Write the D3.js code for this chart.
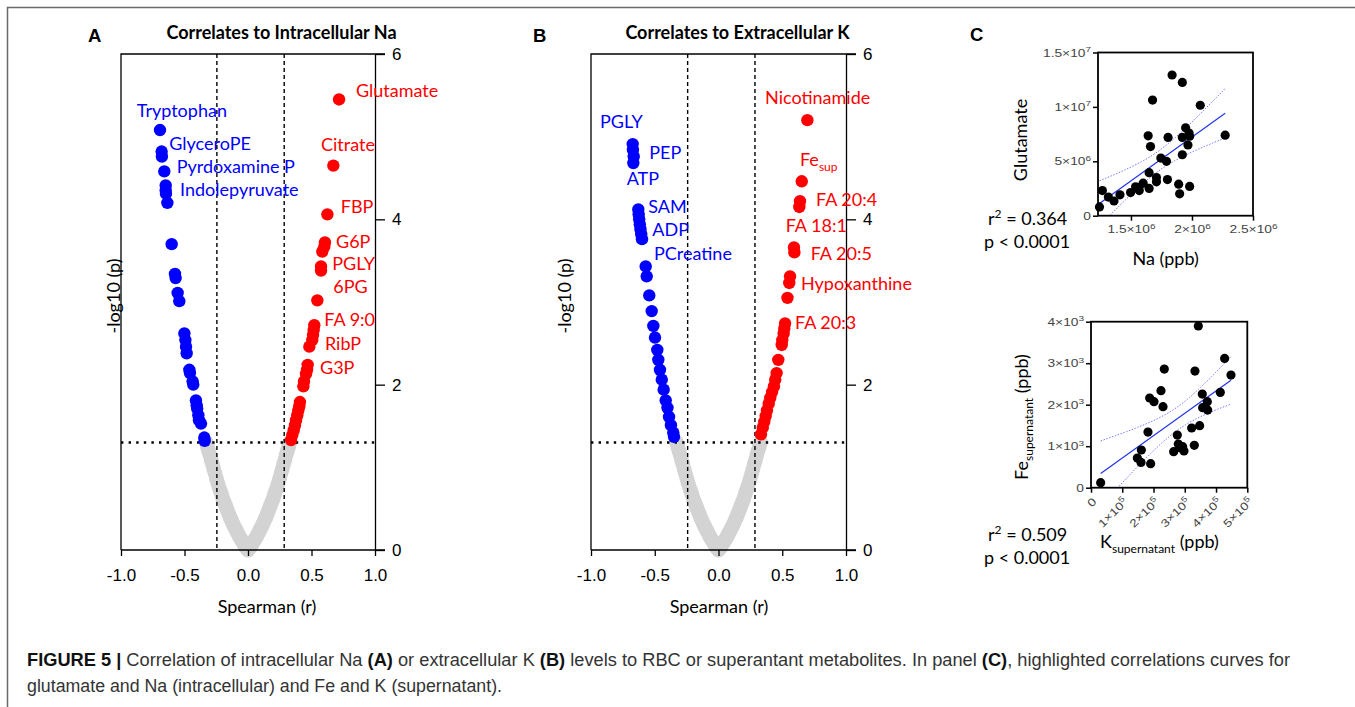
<!DOCTYPE html>
<html>
<head>
<meta charset="utf-8">
<script src="https://cdn.jsdelivr.net/npm/d3@7"></script>
<style>
  body { margin: 0; background: #fff; }
  svg { display: block; }
</style>
</head>
<body>
<svg id="fig" width="1355" height="707"></svg>
<script>
// ---------------- data ----------------
// Non-significant metabolites (Spearman r, -log10 p) – shared V-shaped cloud
const nsR = [-0.33,-0.32,-0.31,-0.30,-0.29,-0.28,-0.27,-0.26,-0.25,-0.24,-0.23,-0.22,-0.21,-0.20,-0.19,-0.18,-0.17,-0.16,-0.15,-0.14,-0.13,-0.12,-0.11,-0.10,-0.09,-0.08,-0.07,-0.06,-0.05,-0.04,-0.03,-0.02,-0.01,0.00,
             0.01,0.02,0.03,0.04,0.05,0.06,0.07,0.08,0.09,0.10,0.11,0.12,0.13,0.14,0.15,0.16,0.17,0.18,0.19,0.20,0.21,0.22,0.23,0.24,0.25,0.26,0.27,0.28,0.29,0.30,0.31,0.32,0.33];
const nsLogP = [1.30,1.25,1.20,1.15,1.09,1.04,0.98,0.93,0.87,0.82,0.77,0.72,0.68,0.63,0.59,0.55,0.51,0.47,0.43,0.39,0.36,0.32,0.29,0.26,0.23,0.20,0.17,0.14,0.12,0.09,0.07,0.04,0.02,0.00,
                0.02,0.04,0.07,0.09,0.12,0.14,0.17,0.20,0.23,0.26,0.29,0.32,0.36,0.39,0.43,0.47,0.51,0.55,0.59,0.63,0.68,0.72,0.77,0.82,0.87,0.93,0.98,1.04,1.09,1.15,1.20,1.25,1.30];

// Panel A – correlates to intracellular Na
const naNegR = [-0.693,-0.680,-0.678,-0.659,-0.648,-0.648,-0.646,-0.635,-0.601,-0.575,-0.570,-0.554,-0.541,-0.501,-0.493,-0.488,-0.483,-0.462,-0.457,-0.436,-0.431,-0.410,-0.404,-0.400,-0.391,-0.386,-0.370,-0.344,-0.341];
const naNegLogP = [5.08,4.82,4.76,4.58,4.41,4.35,4.31,4.20,3.70,3.34,3.29,3.11,3.01,2.62,2.54,2.46,2.38,2.18,2.14,2.04,2.00,1.81,1.75,1.71,1.63,1.57,1.53,1.36,1.32];
const naPosR = [0.717,0.672,0.625,0.606,0.601,0.585,0.575,0.575,0.546,0.522,0.517,0.512,0.506,0.483,0.470,0.465,0.457,0.441,0.436,0.409,0.404,0.396,0.388,0.378,0.370,0.360,0.349,0.339];
const naPosLogP = [5.45,4.65,4.06,3.72,3.67,3.61,3.43,3.38,3.02,2.72,2.66,2.60,2.54,2.46,2.24,2.18,2.13,2.04,1.98,1.79,1.74,1.69,1.63,1.57,1.51,1.45,1.39,1.33];
const naNegNames = ["Tryptophan","GlyceroPE","Pyrdoxamine P","Indolepyruvate"];
const naPosNames = ["Glutamate","Citrate","FBP","G6P","PGLY","6PG","FA 9:0","RibP","G3P"];
const naCut = [-0.245, 0.285];

// Panel B – correlates to extracellular K
const kNegR = [-0.673,-0.671,-0.665,-0.668,-0.629,-0.626,-0.622,-0.617,-0.612,-0.606,-0.600,-0.571,-0.563,-0.543,-0.524,-0.511,-0.498,-0.480,-0.472,-0.459,-0.445,-0.430,-0.414,-0.400,-0.388,-0.373,-0.355,-0.349];
const kNegLogP = [4.91,4.84,4.76,4.68,4.12,4.06,4.00,3.94,3.88,3.82,3.76,3.43,3.31,3.08,2.89,2.71,2.57,2.42,2.30,2.18,2.06,1.94,1.81,1.72,1.61,1.51,1.42,1.37];
const kPosR = [0.697,0.653,0.639,0.634,0.592,0.595,0.561,0.555,0.541,0.522,0.516,0.511,0.500,0.496,0.469,0.456,0.445,0.435,0.420,0.406,0.394,0.380,0.370,0.359,0.347,0.333];
const kPosLogP = [5.20,4.46,4.22,4.15,3.66,3.60,3.31,3.23,3.05,2.74,2.68,2.62,2.54,2.48,2.30,2.14,2.06,1.98,1.91,1.84,1.77,1.69,1.62,1.55,1.48,1.40];
const kNegNames = ["PGLY","PEP","ATP","SAM","ADP","PCreatine"];
const kPosNames = ["Nicotinamide","Fe|sup","FA 20:4","FA 18:1","FA 20:5","Hypoxanthine","FA 20:3"];
const kCut = [-0.242, 0.286];

const pCut = 1.30;           // -log10(0.05)
const volcanoYTicks = [0, 2, 4, 6];
const volcanoXTicks = [-1.0, -0.5, 0.0, 0.5, 1.0];

// Panel C (top) – glutamate vs intracellular Na (ppb)
const naPpb = [1.242e6,1.266e6,1.315e6,1.361e6,1.410e6,1.497e6,1.538e6,1.565e6,1.568e6,1.600e6,1.649e6,1.641e6,1.660e6,1.677e6,1.649e6,1.709e6,1.709e6,1.745e6,1.791e6,1.799e6,1.804e6,1.837e6,1.891e6,1.899e6,1.921e6,1.921e6,1.921e6,1.948e6,1.967e6,1.976e6,1.981e6,1.981e6,2.068e6,2.272e6];
const glutamate = [0.81e6,2.31e6,1.71e6,1.35e6,1.92e6,2.13e6,2.66e6,2.60e6,2.31e6,2.99e6,3.95e6,7.34e6,6.35e6,10.63e6,2.51e6,3.50e6,3.11e6,5.30e6,5.00e6,3.32e6,7.19e6,12.93e6,2.90e6,2.01e6,12.25e6,7.19e6,5.60e6,8.08e6,6.50e6,7.60e6,7.31e6,2.69e6,10.15e6,7.40e6];
const naXTicks = [1.5e6, 2e6, 2.5e6];
const gluYTicks = [0, 5e6, 1e7, 1.5e7];

// Panel C (bottom) – supernatant Fe vs supernatant K (ppb)
const kSupPpb = [0.309e5,1.482e5,1.599e5,1.610e5,1.908e5,1.823e5,1.876e5,2.015e5,2.239e5,2.303e5,2.345e5,2.644e5,2.761e5,2.793e5,2.846e5,2.932e5,2.974e5,3.305e5,3.220e5,3.326e5,3.433e5,3.475e5,3.561e5,3.571e5,3.721e5,3.731e5,4.136e5,4.275e5,4.478e5];
const feSupPpb = [120,715,610,908,578,1341,2161,2072,2337,1952,2859,867,1269,1052,964,988,884,1020,1438,2811,3896,1494,2257,1928,2072,1871,2297,3116,2715];
const kXTicks = [0, 1e5, 2e5, 3e5, 4e5, 5e5];
const feYTicks = [0, 1e3, 2e3, 3e3, 4e3];

// ---------------- layout ----------------
const BLUE = "#0000ff", RED = "#ff0000", GREY = "#d3d3d3";
const LABEL_FONT = "Lato, 'Open Sans', sans-serif";
const AXIS_FONT = "'Liberation Sans', Arial, sans-serif";

const naNegLabelPos = [[-0.876,5.24],[-0.620,4.84],[-0.561,4.56],[-0.535,4.28]];
const naPosLabelPos = [[0.850,5.48],[0.575,4.83],[0.730,4.08],[0.693,3.65],[0.664,3.39],[0.672,3.11],[0.601,2.71],[0.606,2.42],[0.567,2.13]];
const kNegLabelPos = [[-0.929,5.10],[-0.543,4.73],[-0.720,4.42],[-0.551,4.08],[-0.519,3.80],[-0.506,3.51]];
const kPosLabelPos = [[0.365,5.40],[0.639,4.64],[0.765,4.16],[0.527,3.85],[0.723,3.51],[0.647,3.14],[0.600,2.67]];

const svg = d3.select("#fig");

// figure frame
svg.append("path")
  .attr("d", "M7.5,707 V7.5 H1355")
  .attr("fill", "none").attr("stroke", "#6a6a6a").attr("stroke-width", 1.5);

function drawLabel(g, text, x, y, color) {
  const t = g.append("text").attr("x", x).attr("y", y)
    .attr("fill", color).attr("font-family", LABEL_FONT).attr("font-size", 18);
  const parts = text.split("|");
  t.append("tspan").text(parts[0]);
  if (parts[1]) t.append("tspan").attr("font-size", 12).attr("dy", 5).text(parts[1]);
}

function volcano(o) {
  const x = d3.scaleLinear().domain([-1, 1]).range([o.left, o.right]);
  const y = d3.scaleLinear().domain([0, 6]).range([550, 54]);
  const g = svg.append("g");

  // non-significant cloud
  g.append("g").selectAll("circle").data(d3.zip(nsR, nsLogP)).join("circle")
    .attr("cx", d => x(d[0])).attr("cy", d => y(d[1])).attr("r", 7.4).attr("fill", GREY);

  // cut-offs
  o.cut.forEach(c => g.append("line")
    .attr("x1", x(c)).attr("x2", x(c)).attr("y1", y(6)).attr("y2", y(0))
    .attr("stroke", "#000").attr("stroke-width", 1.4).attr("stroke-dasharray", "4,3"));
  g.append("line")
    .attr("x1", x(-1)).attr("x2", x(1)).attr("y1", y(pCut)).attr("y2", y(pCut))
    .attr("stroke", "#000").attr("stroke-width", 2.4).attr("stroke-dasharray", "2.4,5.2");

  // significant metabolites
  g.append("g").selectAll("circle").data(d3.zip(o.negR, o.negP)).join("circle")
    .attr("cx", d => x(d[0])).attr("cy", d => y(d[1])).attr("r", 6.2).attr("fill", BLUE);
  g.append("g").selectAll("circle").data(d3.zip(o.posR, o.posP)).join("circle")
    .attr("cx", d => x(d[0])).attr("cy", d => y(d[1])).attr("r", 6.2).attr("fill", RED);

  // frame: left edge, top and bottom rules
  g.append("path")
    .attr("d", `M${x(-1)},${y(0)} V${y(6)} H${x(1) + 10} M${x(-1)},${y(0)} H${x(1) + 10}`)
    .attr("fill", "none").attr("stroke", "#000").attr("stroke-width", 1.3);

  // y axis on the right
  const ay = g.append("g").attr("transform", `translate(${x(1)},0)`)
    .call(d3.axisRight(y).tickValues(volcanoYTicks).tickFormat(d3.format("d"))
      .tickSize(10).tickSizeOuter(0).tickPadding(7));
  ay.selectAll("path,line").attr("stroke", "#000").attr("stroke-width", 1.3);
  ay.selectAll("text").attr("font-family", AXIS_FONT).attr("font-size", 17).attr("fill", "#000");

  // x axis
  const ax = g.append("g").attr("transform", `translate(0,${y(0)})`)
    .call(d3.axisBottom(x).tickValues(volcanoXTicks).tickFormat(d => d.toFixed(1)).tickSize(6).tickSizeOuter(0).tickPadding(13));
  ax.select(".domain").remove();
  ax.selectAll("line").attr("stroke", "#000").attr("stroke-width", 1.3);
  ax.selectAll("text").attr("font-family", AXIS_FONT).attr("font-size", 17).attr("fill", "#000");

  // metabolite labels
  o.negNames.forEach((n, i) => drawLabel(g, n, x(o.negLab[i][0]), y(o.negLab[i][1]), BLUE));
  o.posNames.forEach((n, i) => drawLabel(g, n, x(o.posLab[i][0]), y(o.posLab[i][1]), RED));

  // titles
  g.append("text").attr("x", o.titleX).attr("y", 38.5).attr("text-anchor", "middle")
    .attr("font-family", LABEL_FONT).attr("font-weight", 700).attr("font-size", 18).text(o.title);
  g.append("text").attr("x", o.letterX).attr("y", 41.5)
    .attr("font-family", AXIS_FONT).attr("font-weight", 700).attr("font-size", 18.5).text(o.letter);
  g.append("text").attr("x", o.xLabelX).attr("y", 613).attr("text-anchor", "middle")
    .attr("font-family", LABEL_FONT).attr("font-size", 18).text("Spearman (r)");
  g.append("text").attr("transform", `translate(${o.yLabelX},296) rotate(-90)`).attr("text-anchor", "middle")
    .attr("font-family", LABEL_FONT).attr("font-size", 18).text("-log10 (p)");
}

volcano({
  left: 121, right: 375, cut: naCut,
  negR: naNegR, negP: naNegLogP, posR: naPosR, posP: naPosLogP,
  negNames: naNegNames, posNames: naPosNames, negLab: naNegLabelPos, posLab: naPosLabelPos,
  title: "Correlates to Intracellular Na", titleX: 281.5, letter: "A", letterX: 88,
  xLabelX: 267, yLabelX: 120
});
volcano({
  left: 591, right: 846, cut: kCut,
  negR: kNegR, negP: kNegLogP, posR: kPosR, posP: kPosLogP,
  negNames: kNegNames, posNames: kPosNames, negLab: kNegLabelPos, posLab: kPosLabelPos,
  title: "Correlates to Extracellular K", titleX: 737.5, letter: "B", letterX: 533,
  xLabelX: 719, yLabelX: 571
});

// ---------- scatter panels (C) ----------
function linFit(xs, ys) {
  const n = xs.length, mx = d3.mean(xs), my = d3.mean(ys);
  let sxx = 0, sxy = 0;
  for (let i = 0; i < n; i++) { sxx += (xs[i] - mx) ** 2; sxy += (xs[i] - mx) * (ys[i] - my); }
  const b = sxy / sxx, a = my - b * mx;
  let sse = 0;
  for (let i = 0; i < n; i++) sse += (ys[i] - (a + b * xs[i])) ** 2;
  return { a, b, n, mx, sxx, s: Math.sqrt(sse / (n - 2)) };
}
const T975 = 2.04;

function sciParts(v) {
  if (v === 0) return ["0", ""];
  const e = Math.floor(Math.log10(v) + 1e-9);
  const m = +(v / Math.pow(10, e)).toFixed(2);
  return [m + "×10", String(e)];
}

function sciTicks(sel, stretch) {
  sel.selectAll(".tick text").each(function (d) {
    const t = d3.select(this).text(null);
    const [base, ex] = sciParts(d);
    t.append("tspan").text(base);
    if (ex) t.append("tspan").attr("font-size", 8).attr("dy", -4.5).text(ex);
    const w = this.getComputedTextLength();
    t.attr("textLength", w * stretch).attr("lengthAdjust", "spacingAndGlyphs");
  });
}

function scatter(o) {
  const x = d3.scaleLinear().domain(o.xDom).range([o.left, o.right]);
  const y = d3.scaleLinear().domain(o.yDom).range([o.bottom, o.top]);
  const g = svg.append("g");
  const clipId = "clip" + o.id;
  g.append("clipPath").attr("id", clipId).append("rect")
    .attr("x", o.left).attr("y", o.top).attr("width", o.right - o.left).attr("height", o.bottom - o.top);

  const f = linFit(o.xs, o.ys);
  const x0 = d3.min(o.xs), x1 = d3.max(o.xs);
  const grid = d3.range(0, 61).map(i => x0 + (x1 - x0) * i / 60);
  const half = v => T975 * f.s * Math.sqrt(1 / f.n + (v - f.mx) ** 2 / f.sxx);
  const line = d3.line().x(d => x(d[0])).y(d => y(d[1]));
  const cg = g.append("g").attr("clip-path", `url(#${clipId})`);
  cg.append("path").attr("d", line(grid.map(v => [v, f.a + f.b * v + half(v)])))
    .attr("fill", "none").attr("stroke", "#7777ff").attr("stroke-width", 1).attr("stroke-dasharray", "1.5,1.5");
  cg.append("path").attr("d", line(grid.map(v => [v, f.a + f.b * v - half(v)])))
    .attr("fill", "none").attr("stroke", "#7777ff").attr("stroke-width", 1).attr("stroke-dasharray", "1.5,1.5");
  cg.append("path").attr("d", line([[x0, f.a + f.b * x0], [x1, f.a + f.b * x1]]))
    .attr("fill", "none").attr("stroke", "#2233ee").attr("stroke-width", 1.2);

  g.append("g").selectAll("circle").data(d3.zip(o.xs, o.ys)).join("circle")
    .attr("cx", d => x(d[0])).attr("cy", d => y(d[1])).attr("r", 4.6).attr("fill", "#000");

  // box
  g.append("rect").attr("x", o.left).attr("y", o.top).attr("width", o.right - o.left).attr("height", o.bottom - o.top)
    .attr("fill", "none").attr("stroke", "#000").attr("stroke-width", 1.8);

  const ay = g.append("g").attr("transform", `translate(${o.left},0)`)
    .call(d3.axisLeft(y).tickValues(o.yTicks).tickSize(5).tickSizeOuter(0).tickPadding(2));
  ay.select(".domain").remove();
  ay.selectAll("line").attr("stroke", "#000").attr("stroke-width", 1.5);
  ay.selectAll("text").attr("font-family", AXIS_FONT).attr("font-size", 11).attr("fill", "#444");
  sciTicks(ay, 1.25);

  const ax = g.append("g").attr("transform", `translate(0,${o.bottom})`)
    .call(d3.axisBottom(x).tickValues(o.xTicks).tickSize(5).tickSizeOuter(0).tickPadding(5));
  ax.select(".domain").remove();
  ax.selectAll("line").attr("stroke", "#000").attr("stroke-width", 1.5);
  ax.selectAll("text").attr("font-family", AXIS_FONT).attr("font-size", 11).attr("fill", "#444");
  sciTicks(ax, 1.25);
  if (o.rotateX) {
    ax.selectAll(".tick text")
      .attr("text-anchor", "end").attr("y", 0).attr("dy", "0.35em")
      .attr("transform", "translate(3,12) rotate(-45)");
  }
  return { g, x, y };
}

const naPanel = scatter({
  id: "na", xs: naPpb, ys: glutamate, xDom: [1.23e6, 2.5e6], yDom: [0, 1.5e7],
  left: 1098, right: 1253, top: 52.5, bottom: 215.7, xTicks: naXTicks, yTicks: gluYTicks
});
const kPanel = scatter({
  id: "k", xs: kSupPpb, ys: feSupPpb, xDom: [0, 5e5], yDom: [0, 4000],
  left: 1091, right: 1247.3, top: 321.7, bottom: 487.7, xTicks: kXTicks, yTicks: feYTicks, rotateX: true
});

const cg = svg.append("g").attr("font-family", LABEL_FONT).attr("font-size", 18).attr("fill", "#000");
cg.append("text").attr("x", 970).attr("y", 40.7).attr("font-family", AXIS_FONT)
  .attr("font-weight", 700).attr("font-size", 18.5).text("C");
cg.append("text").attr("transform", "translate(1027,140) rotate(-90)").attr("text-anchor", "middle").text("Glutamate");
cg.append("text").attr("x", 1165.7).attr("y", 265).attr("text-anchor", "middle").text("Na (ppb)");

function statText(x, y, r2, p) {
  const t1 = cg.append("text").attr("x", x).attr("y", y);
  t1.append("tspan").text("r");
  t1.append("tspan").attr("font-size", 12).attr("dy", -7).text("2");
  t1.append("tspan").attr("dy", 7).text(" = " + r2);
  cg.append("text").attr("x", x - 4).attr("y", y + 23).text("p < " + p);
}
statText(988, 225, "0.364", "0.0001");
statText(988, 541, "0.509", "0.0001");

const feLab = cg.append("text").attr("transform", "translate(1028,417) rotate(-90)").attr("text-anchor", "middle");
feLab.append("tspan").text("Fe");
feLab.append("tspan").attr("font-size", 12).attr("dy", 5).text("supernatant");
feLab.append("tspan").attr("dy", -5).text(" (ppb)");
const kLab = cg.append("text").attr("x", 1100).attr("y", 548);
kLab.append("tspan").text("K");
kLab.append("tspan").attr("font-size", 12).attr("dy", 5).text("supernatant");
kLab.append("tspan").attr("dy", -5).text(" (ppb)");

// ---------- caption ----------
const cap1 = [
  ["FIGURE 5 | ", true], ["Correlation of intracellular Na ", false], ["(A)", true],
  [" or extracellular K ", false], ["(B)", true],
  [" levels to RBC or superantant metabolites. In panel ", false], ["(C)", true],
  [", highlighted correlations curves for", false]
];
const c1 = svg.append("text").attr("x", 27).attr("y", 666)
  .attr("font-family", "'Liberation Sans Narrow', 'Liberation Sans', Arial, sans-serif")
  .attr("font-size", 17.5).attr("fill", "#333")
  .attr("textLength", 1263).attr("lengthAdjust", "spacingAndGlyphs");
cap1.forEach(([s, b]) => c1.append("tspan").attr("font-weight", b ? 700 : 400).attr("fill", b ? "#111" : "#333").text(s));
svg.append("text").attr("x", 27).attr("y", 692)
  .attr("font-family", "'Liberation Sans Narrow', 'Liberation Sans', Arial, sans-serif")
  .attr("font-size", 17.5).attr("fill", "#333")
  .attr("textLength", 475).attr("lengthAdjust", "spacingAndGlyphs")
  .text("glutamate and Na (intracellular) and Fe and K (supernatant).");
</script>
</body>
</html>
